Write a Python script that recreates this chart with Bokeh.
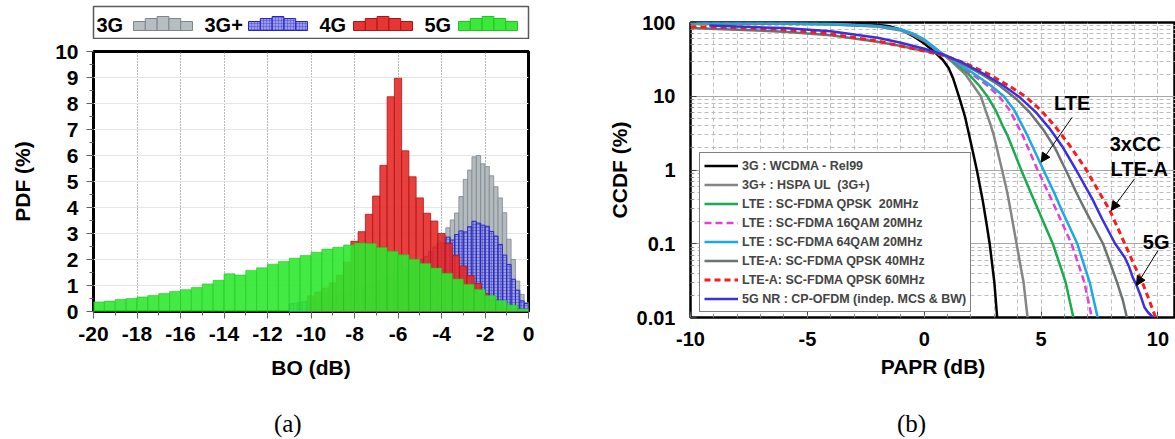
from bokeh.plotting import figure
from bokeh.models import (Range1d, SingleIntervalTicker, FixedTicker, CustomJSTickFormatter,
                          Legend, LegendItem, Label, Arrow, NormalHead)
from bokeh.layouts import row, column
from bokeh.core.properties import value
from bokeh.embed import file_html
from bokeh.resources import INLINE

FONT = "Liberation Sans"
SERIF = "Liberation Serif"

# ---------------- panel (a): PDF of back-off ----------------
# 3G and 3G+ histograms: 0.2 dB bins, first centre -10.9 dB
fine_first, fine_step = -10.9, 0.2
pdf_3g = [0.05, 0.06, 0.08, 0.09, 0.11, 0.13, 0.15, 0.18, 0.21, 0.24,
          0.28, 0.32, 0.36, 0.41, 0.46, 0.52, 0.58, 0.64, 0.71, 0.79,
          0.87, 0.95, 1.04, 1.13, 1.23, 1.33, 1.44, 1.56, 1.68, 1.81,
          1.95, 2.10, 2.30, 2.50, 2.70, 2.90, 3.22, 3.52, 3.79, 4.42,
          5.08, 5.44, 5.95, 6.00, 5.68, 5.58, 5.22, 4.80, 4.37, 3.80,
          2.78, 2.00, 1.17, 0.66, 0.34]
pdf_3gp = [0.30, 0.32, 0.35, 0.38, 0.40, 0.43, 0.47, 0.50, 0.54, 0.58,
           0.62, 0.66, 0.70, 0.75, 0.80, 0.86, 0.92, 0.98, 1.04, 1.10,
           1.17, 1.24, 1.31, 1.38, 1.45, 1.52, 1.60, 1.68, 1.78, 1.88,
           2.00, 2.12, 2.30, 2.45, 2.60, 2.64, 2.86, 2.75, 2.96, 3.10,
           3.06, 3.26, 3.47, 3.40, 3.32, 3.28, 3.08, 2.90, 2.58, 2.17,
           1.81, 1.24, 0.82, 0.41, 0.31]
# 4G histogram: 1/3 dB bins, first centre -10 dB
red_first, red_step = -10.0, 1.0 / 3.0
pdf_4g = [0.60, 0.75, 0.90, 1.10, 1.40, 1.90, 2.70, 3.07, 3.74, 4.44,
          5.62, 8.26, 8.97, 6.18, 5.18, 4.37, 3.78, 3.48, 3.00, 2.62,
          2.15, 1.75, 1.38, 1.08, 0.70, 0.45, 0.25, 0.12, 0.05, 0.02]
# 5G histogram: 0.5 dB bins, first centre -19.75 dB
grn_first, grn_step = -19.75, 0.5
pdf_5g = [0.37, 0.40, 0.46, 0.50, 0.56, 0.62, 0.69, 0.77, 0.84, 0.92,
          1.06, 1.20, 1.45, 1.40, 1.58, 1.68, 1.82, 1.92, 2.05, 2.15,
          2.28, 2.40, 2.47, 2.56, 2.63, 2.62, 2.46, 2.32, 2.18, 2.01,
          1.85, 1.67, 1.47, 1.25, 1.05, 0.85, 0.62, 0.42, 0.25, 0.10]

bo_fine = [round(fine_first + fine_step * i, 3) for i in range(len(pdf_3g))]
bo_red = [red_first + red_step * i for i in range(len(pdf_4g))]
bo_grn = [grn_first + grn_step * i for i in range(len(pdf_5g))]

hist_names = ["3G", "3G+", "4G", "5G"]
captions = ["(a)", "(b)"]

# ---------------- panel (b): CCDF of PAPR ----------------
wcdma_x = [-10, -6, -4, -3, -2, -1.5, -1, -0.5, 0, 0.4, 0.8, 1.05, 1.25, 1.4, 1.55, 1.75, 2.0, 2.25,
           2.5, 2.65, 2.8, 3.0, 3.12]
wcdma_y = [99.5, 99, 98, 96.5, 93, 89, 80, 66, 52, 41, 31, 24, 17, 12, 8.5, 5.2, 2.3, 1,
           0.39, 0.2, 0.1, 0.03, 0.01]
hspa_x = [-10, -6, -4, -2, -1, -0.5, 0, 0.4, 0.8, 1.15, 1.75, 2.1, 2.42, 2.62, 2.85, 2.97, 3.33,
          3.55, 3.68, 3.95, 4.12, 4.25, 4.42]
hspa_y = [97, 96, 94, 88, 78, 68, 56, 45, 37, 30, 20, 14, 10, 6.5, 4, 3, 1,
          0.5, 0.3, 0.1, 0.05, 0.03, 0.01]
qpsk_x = [-10, -6, -4, -2, -1, -0.5, 0, 0.4, 0.8, 1.2, 1.9, 2.35, 2.7, 3.05, 3.35, 3.55, 4.15,
          4.55, 4.85, 5.5, 5.82, 6.05, 6.38]
qpsk_y = [98, 97, 95, 89, 80, 70, 58, 46, 37, 30, 20, 14, 10, 6.5, 4, 3, 1,
          0.5, 0.3, 0.1, 0.05, 0.03, 0.01]
qam16_x = [-10, -6, -4, -2, -1, -0.5, 0, 0.4, 0.8, 1.25, 2.05, 2.7, 3.2, 3.65, 4.0, 4.2, 4.85,
           5.3, 5.62, 6.3, 6.62, 6.85, 7.17]
qam16_y = [98.5, 97.5, 95.5, 89, 80, 70, 58, 46, 37, 30, 20, 14, 10, 6.5, 4, 3, 1,
           0.5, 0.3, 0.1, 0.05, 0.03, 0.01]
qam64_x = [-10, -6, -4, -2, -1, -0.5, 0, 0.4, 0.8, 1.3, 2.15, 2.85, 3.4, 3.85, 4.2, 4.4, 5.1,
           5.55, 5.85, 6.55, 6.85, 7.08, 7.42]
qam64_y = [99, 98, 96, 90, 81, 71, 59, 47, 37, 30, 20, 14, 10, 6.5, 4, 3, 1,
           0.5, 0.3, 0.1, 0.05, 0.03, 0.01]
ltea40_x = [-10, -8, -6, -4, -2, -1, 0, 0.8, 1.5, 2.4, 3.2, 3.9, 4.5, 5.1, 5.6, 6.1, 6.5, 6.9,
            7.65, 8.0, 8.25, 8.5, 8.67]
ltea40_y = [84, 80, 75, 67, 55, 48, 41, 37, 29, 20.4, 14.1, 9.4, 6.1, 3.5, 1.97, 0.93, 0.5, 0.28,
            0.1, 0.05, 0.03, 0.017, 0.01]
ltea60_x = [-10, -8, -6, -4, -2, -1, 0, 0.8, 1.7, 2.75, 3.6, 4.35, 5.0, 5.6, 6.2, 6.9, 7.45, 7.95,
            8.58, 9.0, 9.33, 9.6, 9.9]
ltea60_y = [88, 85, 80, 70, 56, 48, 41, 36, 28.5, 20, 14, 9.8, 6.4, 3.9, 2.2, 1.05, 0.52, 0.28,
            0.1, 0.05, 0.03, 0.018, 0.01]
nr_x = [-9.2, -8, -6, -4, -2, -1, 0, 0.8, 1.6, 2.5, 3.35, 4.1, 4.75, 5.35, 5.9, 6.5, 7.2, 7.6,
        8.17, 8.58, 8.75, 8.92, 9.08, 9.25, 9.42, 9.58, 9.75, 9.8]
nr_y = [91, 88, 84, 76, 62, 53, 44, 37, 29, 20.5, 14.2, 9.6, 6.2, 3.7, 2.1, 1.0, 0.4, 0.22,
        0.1, 0.065, 0.05, 0.035, 0.0275, 0.02, 0.0138, 0.0117, 0.0104, 0.01]

ccdf_names = ["3G : WCDMA - Rel99", "3G+ : HSPA UL  (3G+)", "LTE : SC-FDMA QPSK  20MHz",
              "LTE : SC-FDMA 16QAM 20MHz", "LTE : SC-FDMA 64QAM 20MHz",
              "LTE-A: SC-FDMA QPSK 40MHz", "LTE-A: SC-FDMA QPSK 60MHz",
              "5G NR : CP-OFDM (indep. MCS & BW)"]

# ---------------- styles ----------------
C_GREY_F, C_GREY_L = "#b3bbbf", "#7d878b"
C_BLUE_F, C_BLUE_L = "#8a8ae8", "#2626c8"
C_RED_F, C_RED_L = "#e52a2a", "#b01515"
C_GRN_F, C_GRN_L = "#2fe82f", "#22c422"
PLAIN = CustomJSTickFormatter(code="return tick.toString();")


def blank(width, height, **borders):
    f = figure(width=width, height=height, x_range=Range1d(0, width), y_range=Range1d(0, height),
               output_backend="svg", toolbar_location=None, **borders)
    f.axis.visible = False
    f.grid.visible = False
    f.outline_line_color = None
    f.background_fill_color = "white"
    f.border_fill_color = "white"
    return f


def caption(width, text, cx):
    f = blank(width, 39, min_border_left=0, min_border_right=0, min_border_top=0,
              min_border_bottom=0)
    f.text(x=[cx], y=[16], text=[text], text_font=value(SERIF), text_font_size="25px",
           text_align="center", text_baseline="middle", text_color="black")
    return f


# ===== panel (a) =====
pa = figure(width=600, height=361, x_range=Range1d(-20, 0), y_range=Range1d(0, 10),
            output_backend="svg", toolbar_location=None,
            min_border_left=93, min_border_right=72, min_border_top=12, min_border_bottom=89)
pa.background_fill_color = "white"
pa.border_fill_color = "white"

pa.vbar(x=bo_fine, top=pdf_3g, width=fine_step, fill_color=C_GREY_F, line_color=C_GREY_L,
        line_width=0.8)
pa.vbar(x=bo_fine, top=pdf_3gp, width=fine_step, fill_color=C_BLUE_F, fill_alpha=0.55,
        hatch_pattern="+", hatch_color="#2a2ac8", hatch_scale=3, hatch_weight=0.7,
        hatch_alpha=0.55, line_color=C_BLUE_L, line_width=1)
pa.vbar(x=bo_red, top=pdf_4g, width=red_step, fill_color=C_RED_F, fill_alpha=0.9,
        line_color=C_RED_L, line_width=0.8)
pa.vbar(x=bo_grn, top=pdf_5g, width=grn_step, fill_color=C_GRN_F, fill_alpha=0.9,
        line_color=C_GRN_L, line_width=0.6)

pa.xaxis.ticker = SingleIntervalTicker(interval=2, num_minor_ticks=2)
pa.yaxis.ticker = SingleIntervalTicker(interval=1, num_minor_ticks=2)
pa.xaxis.formatter = PLAIN
pa.xgrid.grid_line_color = "#707070"
pa.xgrid.grid_line_dash = "1 2"
pa.xgrid.grid_line_width = 1
pa.ygrid.grid_line_color = "#e6e6e6"
pa.outline_line_color = "black"
pa.outline_line_width = 3
pa.outline_line_alpha = 1
for ax in (pa.xaxis[0], pa.yaxis[0]):
    ax.axis_line_color = None
    ax.major_tick_in = 0
    ax.major_tick_out = 7
    ax.minor_tick_in = 0
    ax.minor_tick_out = 4
    ax.major_tick_line_color = "#606060"
    ax.minor_tick_line_color = "#606060"
    ax.major_label_text_font = FONT
    ax.major_label_text_font_style = "bold"
    ax.major_label_text_font_size = "21px"
    ax.major_label_text_color = "black"
    ax.axis_label_text_font = FONT
    ax.axis_label_text_font_style = "bold"
    ax.axis_label_text_font_size = "21px"
    ax.axis_label_text_color = "black"
pa.xaxis.axis_label = "BO (dB)"
pa.yaxis.axis_label = "PDF (%)"
pa.xaxis.major_label_standoff = 8
pa.xaxis.axis_label_standoff = 12
pa.yaxis.major_label_standoff = 8
pa.yaxis.axis_label_standoff = 18

# ===== legend strip above panel (a) =====
pl = blank(435, 32, min_border_left=93, min_border_right=72, min_border_top=6,
           min_border_bottom=1)
pl.width = 600
pl.height = 39
pl.outline_line_color = "#5a5a5a"
pl.outline_line_width = 1.5

leg_fill = [C_GREY_F, C_BLUE_F, C_RED_F, C_GRN_F]
leg_line = [C_GREY_L, C_BLUE_L, C_RED_L, C_GRN_L]
text_x0 = [3, 111, 226, 331]
icon_x0 = [40, 155, 260, 365]
icon_h = [9, 12, 14, 12, 9]
bw = 11.8
for i, name in enumerate(hist_names):
    pl.text(x=[text_x0[i]], y=[13.5], text=[name], text_font=value(FONT), text_font_style="bold",
            text_font_size="20px", text_baseline="middle", text_align="left", text_color="black")
    xs = [icon_x0[i] + bw * (k + 0.5) for k in range(5)]
    tops = [8 + h for h in icon_h]
    kw = {}
    if i == 1:
        kw = dict(hatch_pattern="+", hatch_color="#2a2ac8", hatch_scale=3, hatch_weight=0.7,
                  hatch_alpha=0.5)
    pl.vbar(x=xs, top=tops, bottom=8, width=bw, fill_color=leg_fill[i], line_color=leg_line[i],
            line_width=1, fill_alpha=0.95 if i != 1 else 0.85, **kw)

# ===== panel (b) =====
pb = figure(width=575, height=400, x_range=Range1d(-10, 10.75), y_range=Range1d(0.01, 100),
            y_axis_type="log", output_backend="svg", toolbar_location=None,
            min_border_left=90, min_border_right=0, min_border_top=22, min_border_bottom=83)
pb.background_fill_color = "white"
pb.border_fill_color = "white"

pb.xaxis.ticker = SingleIntervalTicker(interval=5, num_minor_ticks=5)
pb.xaxis.formatter = PLAIN
minor_log = [m * 10.0 ** e for e in range(-2, 2) for m in range(2, 10)]
pb.yaxis.ticker = FixedTicker(ticks=[0.01, 0.1, 1, 10, 100], minor_ticks=minor_log)
pb.yaxis.formatter = CustomJSTickFormatter(code="return tick.toString();")

pb.xgrid.grid_line_color = "#bdbdbd"
pb.xgrid.grid_line_dash = "4 3"
pb.xgrid.minor_grid_line_color = "#bdbdbd"
pb.xgrid.minor_grid_line_dash = "4 3"
pb.ygrid.grid_line_color = "#a8a8a8"
pb.ygrid.minor_grid_line_color = "#bdbdbd"
pb.ygrid.minor_grid_line_dash = "4 3"
pb.outline_line_color = "black"
pb.outline_line_width = 2.5
pb.outline_line_alpha = 1
for ax in (pb.xaxis[0], pb.yaxis[0]):
    ax.axis_line_color = None
    ax.major_tick_in = 6
    ax.major_tick_out = 0
    ax.minor_tick_in = 3
    ax.minor_tick_out = 0
    ax.major_tick_line_color = "#404040"
    ax.minor_tick_line_color = "#808080"
    ax.major_label_text_font = FONT
    ax.major_label_text_font_style = "bold"
    ax.major_label_text_font_size = "20px"
    ax.major_label_text_color = "black"
    ax.axis_label_text_font = FONT
    ax.axis_label_text_font_style = "bold"
    ax.axis_label_text_font_size = "21px"
    ax.axis_label_text_color = "black"
pb.xaxis.axis_label = "PAPR (dB)"
pb.yaxis.axis_label = "CCDF (%)"
pb.xaxis.major_label_standoff = 14
pb.xaxis.axis_label_standoff = 6
pb.yaxis.major_label_standoff = 15
pb.yaxis.axis_label_standoff = 3

curves = [
    (wcdma_x, wcdma_y, "black", None, 2.5),
    (hspa_x, hspa_y, "#858585", None, 2.5),
    (qpsk_x, qpsk_y, "#1aab4f", None, 2.5),
    (qam16_x, qam16_y, "#e43fd6", "7 4", 2.5),
    (qam64_x, qam64_y, "#1aa9e2", None, 2.5),
    (ltea40_x, ltea40_y, "#6b7373", None, 2.5),
    (ltea60_x, ltea60_y, "#ff1a1a", "6 4", 3),
    (nr_x, nr_y, "#3b2fe0", None, 2.5),
]
items = []
for (xs, ys, col, dash, lw), name in zip(curves, ccdf_names):
    kw = {"line_dash": dash} if dash else {}
    r = pb.line(xs, ys, line_color=col, line_width=lw, line_join="round", **kw)
    items.append(LegendItem(label=name, renderers=[r]))

leg = Legend(items=items, location=(9, 5), label_text_font=FONT, label_text_font_style="bold",
             label_text_font_size="12.5px", glyph_width=34, glyph_height=17, label_height=17,
             label_standoff=4, spacing=2, padding=4, margin=0, border_line_color="black",
             border_line_width=1, background_fill_color="white", background_fill_alpha=1)
pb.add_layout(leg)

for txt, x, y in [("LTE", 6.33, 8.0), ("3xCC", 9.03, 2.22), ("LTE-A", 9.2, 1.04), ("5G", 9.92, 0.105)]:
    pb.add_layout(Label(x=x, y=y, text=txt, text_font=FONT, text_font_style="bold",
                        text_font_size="20px", text_align="center", text_baseline="middle",
                        text_color="black"))
for x0, y0, x1, y1 in [(6.33, 5.2, 5.0, 1.28), (9.0, 0.76, 8.0, 0.283), (10.0, 0.081, 9.08, 0.0272)]:
    pb.add_layout(Arrow(end=NormalHead(size=9, fill_color="black", line_color="black"),
                        x_start=x0, y_start=y0, x_end=x1, y_end=y1,
                        line_color="black", line_width=1))

cap_a = caption(600, captions[0], 268)
cap_b = caption(575, captions[1], 262)

layout = row(column(pl, pa, cap_a, spacing=0), column(pb, cap_b, spacing=0), spacing=0)
open("out.html", "w").write(file_html(layout, INLINE))
